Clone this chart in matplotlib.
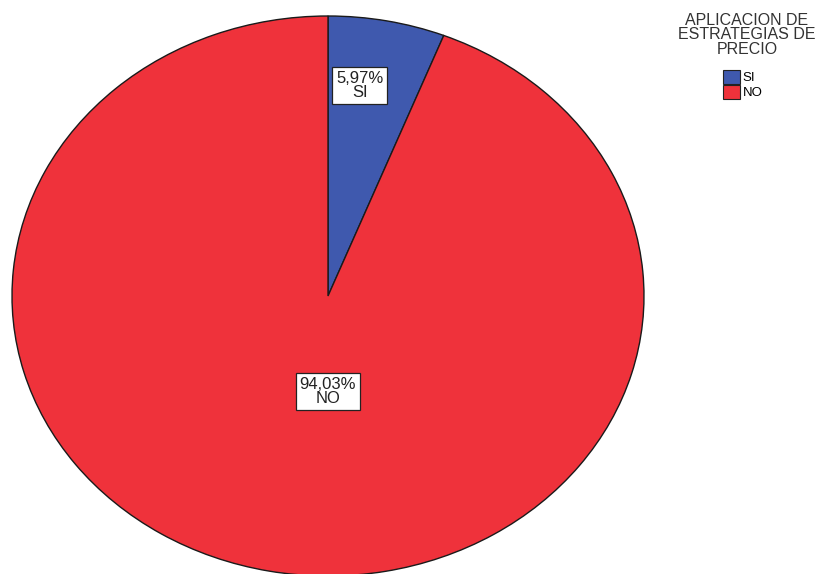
import matplotlib
matplotlib.use("Agg")
import matplotlib.pyplot as plt
from matplotlib.patches import Patch

plt.rcParams["font.family"] = ["Liberation Sans", "DejaVu Sans"]

# ── data ─────────────────────────────────────────────────────────────────────
categories = ["SI", "NO"]
percentages = [5.97, 94.03]
colors = ["#3F59AE", "#EF323B"]
legend_title = "APLICACION DE\nESTRATEGIAS DE\nPRECIO"

# label box centres (in pie units, pie radius = 1)
label_pos = [(0.10, 0.752), (0.0, -0.341)]

W, H = 823, 574
CX, CY = 328, 296        # pie centre, pixels from top-left
RX, RY = 316, 280        # pie half-width / half-height, pixels

fig = plt.figure(figsize=(W / 100, H / 100), dpi=100)
fig.patch.set_facecolor("white")
ax = fig.add_axes([0, 0, 1, 1])

wedges, _ = ax.pie(
    percentages, colors=colors, startangle=90, counterclock=False,
    radius=1.0, wedgeprops=dict(edgecolor="#1a1a1a", linewidth=1.0),
)

# stretch the pie into an ellipse by mapping pixels onto data units
ax.set_aspect("auto")
ax.set_xlim(-CX / RX, (W - CX) / RX)
ax.set_ylim((CY - H) / RY, CY / RY)
ax.axis("off")

for (x, y), cat, pct in zip(label_pos, categories, percentages):
    ax.text(x, y, f"{pct:.2f}%".replace(".", ",") + f"\n{cat}",
            ha="center", va="center", fontsize=12, color="#222222",
            linespacing=0.95,
            bbox=dict(boxstyle="square,pad=0.22", facecolor="white",
                      edgecolor="#222222", linewidth=0.9))

# legend: centred title with the colour keys underneath
fig.text(747 / W, 1 - 13 / H, legend_title, ha="center", va="top",
         fontsize=11.5, color="#333333", linespacing=0.95)
handles = [Patch(facecolor=c, edgecolor="#222222", linewidth=0.8, label=l)
           for c, l in zip(colors, categories)]
fig.legend(handles=handles, loc="upper left",
           bbox_to_anchor=(716 / W, 1 - 63 / H), frameon=False,
           fontsize=9.5, handlelength=1.3, handleheight=1.25,
           handletextpad=0.2, labelspacing=0.08, borderpad=0.0)

fig.savefig("out.png", dpi=100, facecolor="white")
